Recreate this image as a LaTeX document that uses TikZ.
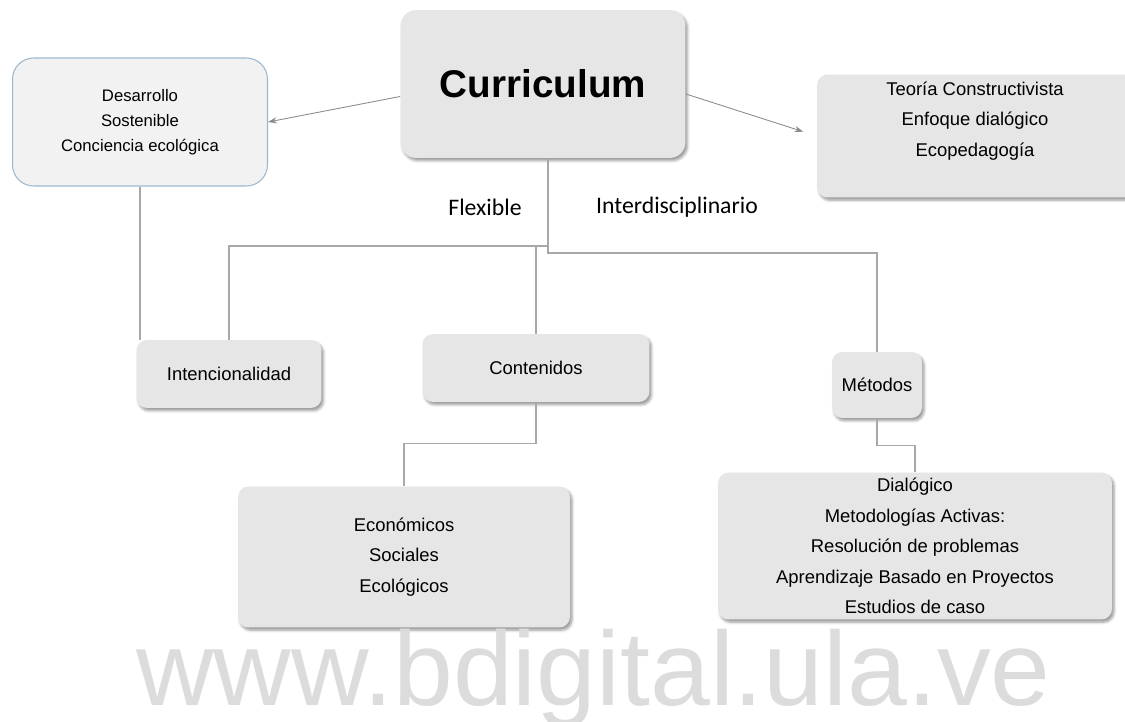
\documentclass[tikz,border=0pt]{standalone}
\usepackage{fontspec}
\setmainfont{Liberation Sans}
\newfontfamily\labelfont{Carlito}
\usepackage{tikz}
\usetikzlibrary{calc, positioning, arrows.meta, shadows.blur}

\definecolor{boxgray}{HTML}{E6E6E6}
\definecolor{lightbox}{HTML}{F2F2F2}
\definecolor{bluedge}{HTML}{9FB7CC}
\definecolor{linegray}{HTML}{A8A8A8}
\definecolor{arrowgray}{HTML}{8C8C8C}
\definecolor{markgray}{HTML}{DCDCDC}

\tikzset{
	box/.style={rectangle, rounded corners=6pt, fill=boxgray, draw=none, align=center, inner sep=0pt,
		blur shadow={shadow xshift=1.2pt, shadow yshift=-1.6pt, shadow blur steps=4, shadow blur radius=1.5pt},
		font=\fontsize{10.5}{17.3}\selectfont},
	conn/.style={draw=linegray, line width=0.6pt},
	arr/.style={draw=arrowgray, line width=0.5pt, -{Stealth[length=5pt, width=3.5pt]}},
	tag/.style={font=\labelfont\fontsize{13.5}{16}\selectfont, inner sep=0pt}
}

\begin{document}
\begin{tikzpicture}[x=0.02cm, y=-0.02cm]
	\useasboundingbox (0,0) rectangle (1125,722);

	\node[box, rounded corners=9pt, minimum width=285*0.2mm, minimum height=148*0.2mm, font=\fontsize{22}{26}\selectfont\bfseries] (curr) at (543,84) {Curriculum};
	\node[rectangle, rounded corners=12pt, fill=lightbox, draw=bluedge, line width=0.6pt, align=center, inner sep=0pt,
		minimum width=255*0.2mm, minimum height=128*0.2mm, font=\fontsize{9.5}{14.2}\selectfont] (desa) at (140,122) {Desarrollo\\Sostenible\\Conciencia ecológica};
	\node[box, minimum width=328*0.2mm, minimum height=123*0.2mm] (teoria) at (981,136) {};
	\node[align=center, inner sep=0pt, font=\fontsize{10.5}{17.5}\selectfont] (teoriatxt) at (975,121) {Teoría Constructivista\\Enfoque dialógico\\Ecopedagogía};

	\node[tag] (flex) at (485,207) {Flexible};
	\node[tag] (inter) at (677,207) {Interdisciplinario};

	\node[box, minimum width=185*0.2mm, minimum height=68*0.2mm] (inte) at (229,374) {Intencionalidad};
	\node[box, minimum width=227*0.2mm, minimum height=68*0.2mm] (cont) at (536,368) {Contenidos};
	\node[box, minimum width=90*0.2mm, minimum height=66*0.2mm] (meto) at (877,385) {Métodos};
	\node[box, minimum width=332*0.2mm, minimum height=141*0.2mm] (econ) at (404,557) {Económicos\\Sociales\\Ecológicos};
	\node[box, minimum width=394*0.2mm, minimum height=147*0.2mm] (dial) at (915,546) {Dialógico\\Metodologías Activas:\\Resolución de problemas\\Aprendizaje Basado en Proyectos\\Estudios de caso};

	\node[anchor=base west, inner sep=0pt, text=markgray, font=\fontsize{60}{60}\selectfont] (mark) at (136,705) {\scalebox{1.02}[1]{www.bdigital.ula.ve}};

	\draw[arr] (curr.185) -- (desa.east);
	\draw[arr, shorten >=8pt] (curr.-4) -- (teoria.west);

	\coordinate (jtop) at (548,253);
	\coordinate (jleft) at (548,246);
	\draw[conn] (curr.south -| jtop) -- (jtop) -| (meto.north);
	\draw[conn] (jleft) -| (inte.north);
	\draw[conn] (jleft -| cont.north) -- (cont.north);
	\draw[conn] (desa.south) -- (desa.south |- inte.north);
	\draw[conn] (cont.south) -- ++(0,41) -| (econ.north);
	\draw[conn] (meto.south) -- ++(0,27) -| (dial.north);
\end{tikzpicture}
\end{document}
